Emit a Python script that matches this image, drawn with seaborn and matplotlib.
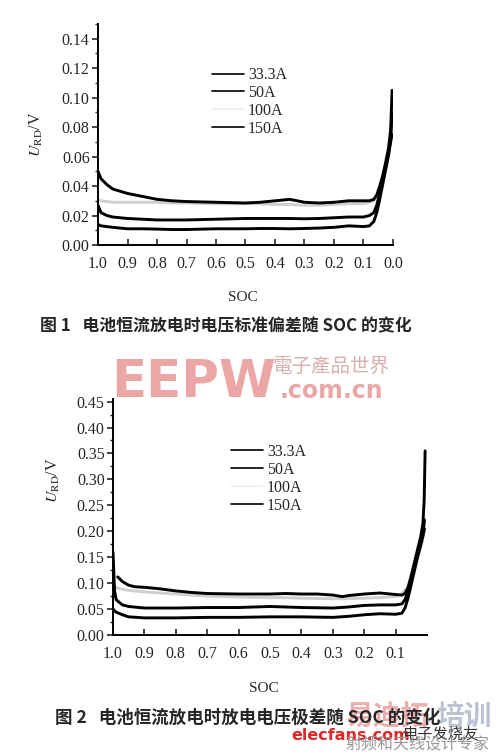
import pandas as pd
import seaborn as sns
import matplotlib.pyplot as plt
from matplotlib.lines import Line2D
from matplotlib.ticker import MultipleLocator

# ---- data ----
currents = ["33.3A", "50A", "100A", "150A"]
colors = {"33.3A": "black", "50A": "black", "100A": "#cfcfcf", "150A": "black"}

# figure 1: voltage standard deviation
soc1 = [1.0, 0.99, 0.97, 0.95, 0.9, 0.85, 0.8, 0.75, 0.7, 0.6, 0.5, 0.45, 0.4, 0.35,
        0.3, 0.25, 0.2, 0.15, 0.1, 0.08, 0.065, 0.055, 0.045, 0.035, 0.025, 0.015, 0.008, 0.003]
std_150 = [0.050, 0.045, 0.041, 0.038, 0.035, 0.033, 0.031, 0.030, 0.0295, 0.029, 0.0285, 0.029, 0.030, 0.031,
           0.029, 0.0285, 0.029, 0.030, 0.030, 0.030, 0.031, 0.034, 0.040, 0.047, 0.056, 0.066, 0.078, 0.105]
std_100 = [0.031, 0.030, 0.0295, 0.029, 0.029, 0.029, 0.029, 0.0285, 0.0285, 0.028, 0.028, 0.028, 0.0275, 0.0275,
           0.027, 0.027, 0.0275, 0.028, 0.028, 0.029, 0.030, 0.033, 0.038, 0.045, 0.053, 0.062, 0.070, 0.080]
std_50 = [0.027, 0.022, 0.020, 0.019, 0.018, 0.0175, 0.017, 0.017, 0.017, 0.0175, 0.018, 0.018, 0.018, 0.018,
          0.0178, 0.018, 0.0185, 0.019, 0.019, 0.020, 0.022, 0.027, 0.035, 0.044, 0.053, 0.063, 0.072, 0.090]
std_33 = [0.014, 0.013, 0.0125, 0.012, 0.011, 0.011, 0.0108, 0.0105, 0.0105, 0.011, 0.011, 0.0112, 0.0112, 0.011,
          0.0112, 0.0115, 0.012, 0.013, 0.0125, 0.013, 0.016, 0.022, 0.031, 0.041, 0.051, 0.061, 0.070, 0.075]

# figure 2: voltage range
soc2_150 = [0.985, 0.97, 0.95, 0.93, 0.9, 0.85, 0.8, 0.75, 0.7, 0.6, 0.5, 0.45, 0.4, 0.35, 0.3, 0.27,
            0.25, 0.2, 0.15, 0.1, 0.08, 0.07, 0.06, 0.05, 0.04, 0.03, 0.02, 0.013, 0.009, 0.006]
rng_150 = [0.112, 0.103, 0.096, 0.093, 0.092, 0.089, 0.085, 0.082, 0.080, 0.079, 0.079, 0.080, 0.079, 0.079, 0.077, 0.074,
           0.076, 0.079, 0.081, 0.078, 0.077, 0.080, 0.092, 0.115, 0.140, 0.165, 0.190, 0.215, 0.260, 0.355]
soc2 = [1.0, 0.995, 0.99, 0.97, 0.95, 0.9, 0.8, 0.7, 0.6, 0.5, 0.45, 0.4, 0.3, 0.25, 0.2, 0.15,
        0.1, 0.08, 0.07, 0.06, 0.05, 0.04, 0.03, 0.02, 0.013, 0.008]
rng_100 = [0.095, 0.093, 0.091, 0.088, 0.086, 0.083, 0.079, 0.075, 0.073, 0.072, 0.072, 0.071, 0.070, 0.070, 0.071, 0.072,
           0.074, 0.080, 0.086, 0.095, 0.112, 0.135, 0.158, 0.182, 0.200, 0.215]
rng_50 = [0.160, 0.085, 0.068, 0.058, 0.055, 0.052, 0.052, 0.053, 0.053, 0.055, 0.054, 0.053, 0.052, 0.054, 0.057, 0.058,
          0.058, 0.060, 0.068, 0.085, 0.108, 0.132, 0.155, 0.178, 0.198, 0.222]
rng_33 = [0.050, 0.047, 0.044, 0.039, 0.035, 0.033, 0.033, 0.034, 0.034, 0.035, 0.035, 0.035, 0.034, 0.036, 0.039, 0.041,
          0.040, 0.042, 0.052, 0.072, 0.098, 0.124, 0.150, 0.172, 0.190, 0.205]


def frame(parts):
    rows = []
    for name, xs, ys in parts:
        rows.append(pd.DataFrame({"SOC": xs, "U": ys, "I": name}))
    return pd.concat(rows, ignore_index=True)


df1 = frame([("100A", soc1, std_100), ("150A", soc1, std_150), ("50A", soc1, std_50), ("33.3A", soc1, std_33)])
df2 = frame([("100A", soc2, rng_100), ("150A", soc2_150, rng_150), ("50A", soc2, rng_50), ("33.3A", soc2, rng_33)])

sns.set_style("ticks")
plt.rcParams["font.family"] = ["Liberation Serif", "DejaVu Serif"]
plt.rcParams["mathtext.fontset"] = "stix"
cjk = ["Noto Sans CJK SC", "DejaVu Sans"]

fig = plt.figure(figsize=(4.96, 7.53), dpi=100)
W, H = 496, 753


def px_axes(l, t, r, b):
    return fig.add_axes([l / W, 1 - b / H, (r - l) / W, (b - t) / H])


def style(ax, ylim, ystep, xmin_tick, xlim_right):
    ax.set_xlim(1.0, xlim_right)
    ax.set_ylim(*ylim)
    ax.set_xticks([round(1.0 - 0.1 * i, 1) for i in range(int(round((1.0 - xmin_tick) / 0.1)) + 1)])
    ax.xaxis.set_major_formatter(plt.FuncFormatter(lambda v, p: f"{v:.1f}"))
    ax.yaxis.set_major_locator(MultipleLocator(ystep))
    ax.yaxis.set_minor_locator(MultipleLocator(ystep / 2))
    ax.yaxis.set_major_formatter(plt.FuncFormatter(lambda v, p: f"{v:.2f}"))
    for s in ["top", "right"]:
        ax.spines[s].set_visible(False)
    for s in ["left", "bottom"]:
        ax.spines[s].set_linewidth(1.4)
        ax.spines[s].set_color("black")
    ax.tick_params(axis="y", direction="out", length=4, width=1.2, pad=2, labelsize=11.5)
    ax.tick_params(axis="y", which="minor", direction="out", length=2, width=1)
    ax.tick_params(axis="x", direction="in", length=4, width=1.2, pad=8, labelsize=11.5)
    ax.set_ylabel(r"$U_{\mathrm{RD}}$/V", fontsize=11.5)
    ax.set_xlabel("SOC", fontsize=11)


def legend(ax, x, y):
    handles = [Line2D([], [], color=colors[c] if c != "100A" else "#efefef", lw=1.2) for c in currents]
    ax.legend(handles, currents, loc="upper left", bbox_to_anchor=(x, y), frameon=False,
              handlelength=2.0, handletextpad=0.25, labelspacing=0.12, borderpad=0,
              borderaxespad=0, prop={"family": "Liberation Serif", "size": 11.5})


# ---- figure 1 ----
ax1 = px_axes(98, 24, 393, 245)
sns.lineplot(data=df1, x="SOC", y="U", hue="I", palette=colors, lw=2.1, legend=False, ax=ax1)
style(ax1, (0, 0.15), 0.02, 0.0, 0.0)
ax1.yaxis.set_label_coords(-0.18, 0.5)
ax1.xaxis.set_label_coords(0.49, -0.21)
legend(ax1, 0.386, 0.805)
fig.text(40 / W, 1 - 326 / H, "图 1   电池恒流放电时电压标准偏差随 SOC 的变化", family=cjk,
         fontweight="bold", fontsize=12.2, va="center", ha="left")

# ---- watermark (EEPW) ----
fig.text(111 / W, 1 - 397 / H, "EEPW", family="DejaVu Sans", fontweight="bold", fontsize=37,
         color="#eba6a6", va="baseline", ha="left")
fig.text(273 / W, 1 - 366 / H, "電子產品世界", family=["Noto Sans CJK TC", "DejaVu Sans"], fontsize=14,
         color="#d8b0b0", va="center", ha="left")
fig.text(280 / W, 1 - 391 / H, ".com.cn", family="DejaVu Sans", fontweight="bold", fontsize=17,
         color="#eba6a6", va="center", ha="left")

# ---- figure 2 ----
ax2 = px_axes(113, 399, 427, 635)
sns.lineplot(data=df2, x="SOC", y="U", hue="I", palette=colors, lw=2.1, legend=False, ax=ax2)
style(ax2, (0, 0.455), 0.05, 0.1, 0.0)
ax2.yaxis.set_label_coords(-0.162, 0.657)
ax2.xaxis.set_label_coords(0.48, -0.20)
legend(ax2, 0.376, 0.81)

# ---- watermark (elecfans), behind caption 2 ----
fig.text(345 / W, 1 - 717 / H, "易迪拓", family=cjk, fontweight="bold", fontsize=20,
         color="#e58a8a", alpha=0.7, va="center", ha="left")
fig.text(436 / W, 1 - 717 / H, "培训", family=cjk, fontweight="bold", fontsize=20,
         color="#aab4c8", alpha=0.8, va="center", ha="left")

fig.text(55 / W, 1 - 718 / H, "图 2   电池恒流放电时放电电压极差随 SOC 的变化", family=cjk,
         fontweight="bold", fontsize=12.6, va="center", ha="left")

fig.text(291 / W, 1 - 735 / H, "elecfans.com", family="DejaVu Sans", fontweight="bold", fontsize=11.5,
         color="#e02828", va="center", ha="left")
fig.text(402 / W, 1 - 734 / H, "电子发烧友", family=cjk, style="italic", fontsize=11,
         color="#333333", va="center", ha="left")
fig.text(345 / W, 1 - 745 / H, "射频和天线设计专家", family=["Noto Sans CJK SC", "DejaVu Sans"], fontsize=11.5,
         color="#999999", va="center", ha="left")

fig.savefig("out.png", dpi=100)
